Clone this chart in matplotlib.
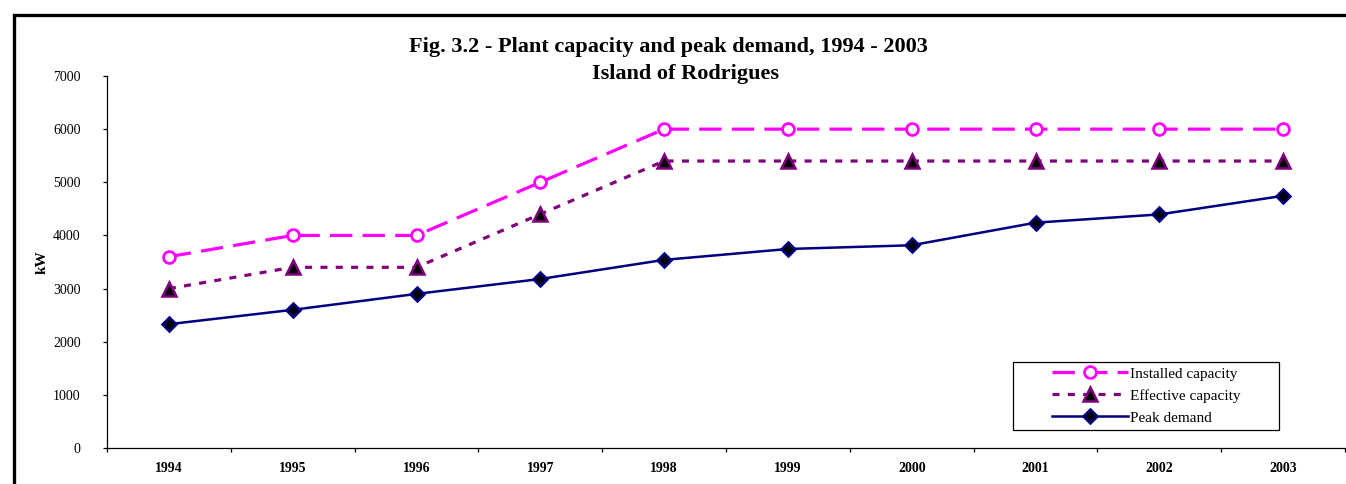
import matplotlib
matplotlib.use("Agg")
import matplotlib.pyplot as plt
from matplotlib.patches import Rectangle
import numpy as np

years = ["1994", "1995", "1996", "1997", "1998", "1999", "2000", "2001", "2002", "2003"]
installed = [3600, 4000, 4000, 5000, 6000, 6000, 6000, 6000, 6000, 6000]
effective = [3000, 3400, 3400, 4400, 5400, 5400, 5400, 5400, 5400, 5400]
peak = [2330, 2600, 2900, 3180, 3540, 3745, 3815, 4240, 4395, 4745]
yticks = [0, 1000, 2000, 3000, 4000, 5000, 6000, 7000]

plt.rcParams['font.family'] = ['Liberation Serif', 'DejaVu Serif']

W, H = 1346, 484
fig = plt.figure(figsize=(W / 100, H / 100), dpi=100)
ax = fig.add_axes([107 / W, (H - 448) / H, (1345 - 107) / W, (448 - 76) / H])

x = np.arange(len(years))
ax.plot(x, installed, color='#FF00FF', lw=2.3, dashes=(7, 3.2), marker='o', ms=8.5,
        mfc='white', mec='#FF00FF', mew=2, label='Installed capacity', zorder=3)
ax.plot(x, effective, color='#800080', lw=2.3, dashes=(2.2, 2.6), marker='^', ms=9.5,
        mfc='black', mec='#800080', mew=1.8, label='Effective capacity', zorder=3)
ax.plot(x, peak, color='#000080', lw=1.8, marker='D', ms=7.5,
        mfc='black', mec='#000080', mew=1.8, label='Peak demand', zorder=3)

ax.set_xlim(-0.5, len(years) - 0.5)
ax.set_ylim(0, 7000)
ax.set_yticks(yticks)
ax.set_yticklabels([str(v) for v in yticks], fontsize=10)
ax.set_xticks(np.arange(-0.5, len(years), 1.0))
ax.set_xticklabels([])
ax.set_xticks(x, minor=True)
ax.set_xticklabels(years, minor=True, fontsize=10, fontweight='bold')
ax.tick_params(axis='x', which='minor', length=0, pad=10)
ax.tick_params(axis='x', which='major', length=3, direction='out', width=0.9)
ax.tick_params(axis='y', length=3, direction='out', width=0.9, pad=16)
for s in ['top', 'right']:
    ax.spines[s].set_visible(False)
for s in ['left', 'bottom']:
    ax.spines[s].set_linewidth(0.9)

fig.text(42 / W, 1 - 262 / H, 'kW', rotation=90, ha='center', va='center',
         fontsize=11, fontweight='bold')

fig.text(668 / W, 1 - 47 / H, 'Fig. 3.2 - Plant capacity and peak demand, 1994 - 2003',
         ha='center', va='center', fontsize=16, fontweight='bold')
fig.text(686 / W, 1 - 74 / H, 'Island of Rodrigues',
         ha='center', va='center', fontsize=16, fontweight='bold')

# legend frame drawn separately, entries placed inside
fig.patches.append(Rectangle((1013 / W, 1 - 430 / H), (1279 - 1013) / W, (430 - 362) / H,
                             transform=fig.transFigure, fill=False, edgecolor='black',
                             lw=0.9, zorder=5))
leg = fig.legend(loc='upper left', bbox_to_anchor=(1048 / W, 1 - 363 / H),
                 fontsize=11, frameon=False, handlelength=5.0, handletextpad=0.15,
                 borderpad=0.25, labelspacing=0.55, borderaxespad=0)

fig.patches.append(Rectangle((14 / W, -0.1), 1.2, (1 - 15 / H) + 0.1, transform=fig.transFigure,
                             fill=False, edgecolor='black', lw=2.4, zorder=10))

fig.savefig('out.png', dpi=100)
